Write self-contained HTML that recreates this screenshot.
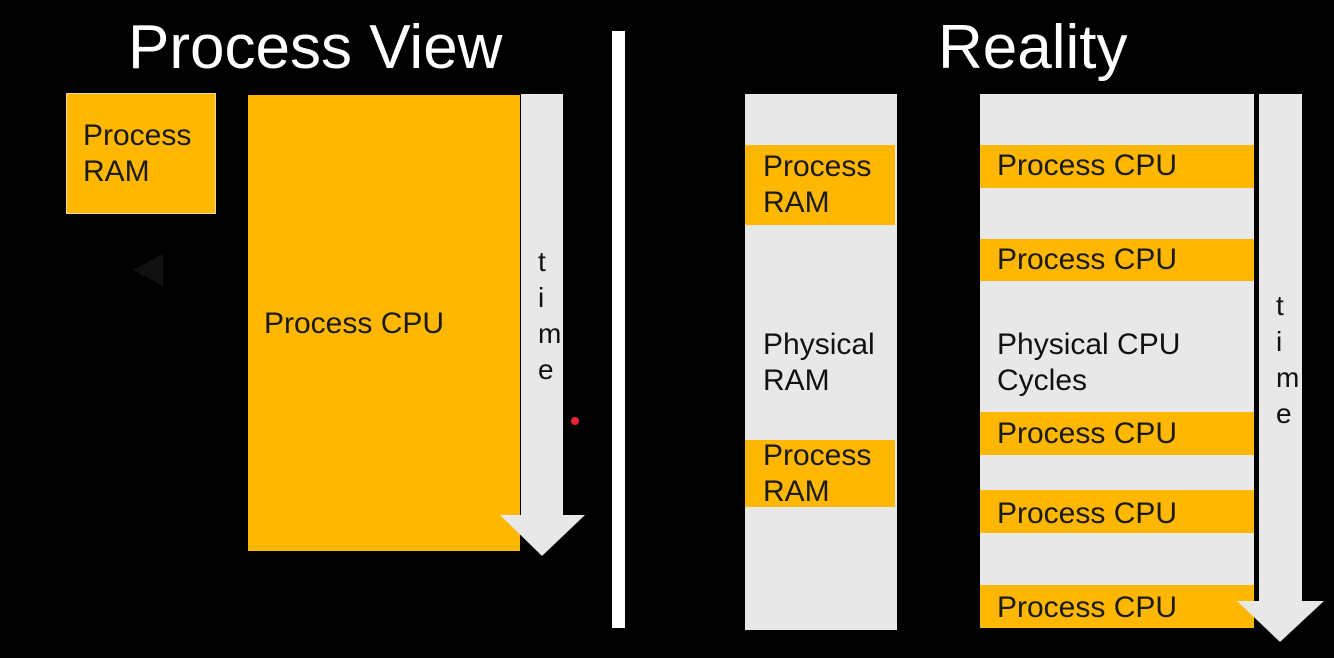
<html><head><style>
body{margin:0;width:1334px;height:658px;background:#000;position:relative;overflow:hidden;font-family:"Liberation Sans",sans-serif}
div{position:absolute;box-sizing:border-box}
.o{background:#ffb701;color:#1a1a1a;font-size:30px;line-height:36px}
.g{background:#e8e8e8}
.t{color:#111;font-size:30px;line-height:36px}
.h{color:#fff;font-size:62px;line-height:60px;white-space:nowrap}
</style></head><body>
<div class="h" style="left:128px;top:18px">Process View</div>
<div class="h" style="left:938px;top:18px">Reality</div>
<div class="o" style="left:66px;top:93px;width:150px;height:121px;padding:24px 0 0 16px;border:1px solid #e8d8a0">Process<br>RAM</div>
<svg style="position:absolute;left:133px;top:254px" width="32" height="34"><polygon points="0,16 30,0 30,32" fill="#111"/></svg>
<div class="o" style="left:248px;top:95px;width:272px;height:456px;padding:211px 0 0 16px">Process CPU</div>
<svg style="position:absolute;left:500px;top:94px" width="86" height="464"><rect x="21" y="0" width="42" height="422" fill="#e8e8e8"/><polygon points="0,421 85,421 42,462" fill="#e8e8e8"/></svg>
<div class="t" style="left:538px;top:244px;font-size:28px;line-height:36px">t<br>i<br>m<br>e</div>
<div style="left:571px;top:417px;width:8px;height:8px;border-radius:50%;background:#e23"></div>
<div style="left:612px;top:31px;width:13px;height:597px;background:#fff"></div>
<div class="g" style="left:745px;top:94px;width:152px;height:536px"></div>
<div class="o" style="left:745px;top:145px;width:150px;height:80px;padding:4px 0 0 18px">Process<br>RAM</div>
<div class="t" style="left:763px;top:327px">Physical<br>RAM</div>
<div class="o" style="left:745px;top:440px;width:150px;height:67px;padding:0 0 0 18px;line-height:36px;padding-top:0"><div style="position:absolute;left:18px;top:-2px">Process<br>RAM</div></div>
<div class="g" style="left:980px;top:94px;width:274px;height:534px"></div>
<div class="o" style="left:980px;top:145px;width:274px;height:43px;padding:3px 0 0 17px">Process CPU</div>
<div class="o" style="left:980px;top:239px;width:274px;height:42px;padding:3px 0 0 17px">Process CPU</div>
<div class="t" style="left:997px;top:327px">Physical CPU<br>Cycles</div>
<div class="o" style="left:980px;top:412px;width:274px;height:43px;padding:4px 0 0 17px">Process CPU</div>
<div class="o" style="left:980px;top:490px;width:274px;height:43px;padding:6px 0 0 17px">Process CPU</div>
<div class="o" style="left:980px;top:585px;width:274px;height:43px;padding:5px 0 0 17px">Process CPU</div>
<svg style="position:absolute;left:1237px;top:94px" width="88" height="550"><rect x="22" y="0" width="43" height="508" fill="#e8e8e8"/><polygon points="0,507 87,507 43,548" fill="#e8e8e8"/></svg>
<div class="t" style="left:1276px;top:288px;font-size:28px">t<br>i<br>m<br>e</div>
</body></html>
